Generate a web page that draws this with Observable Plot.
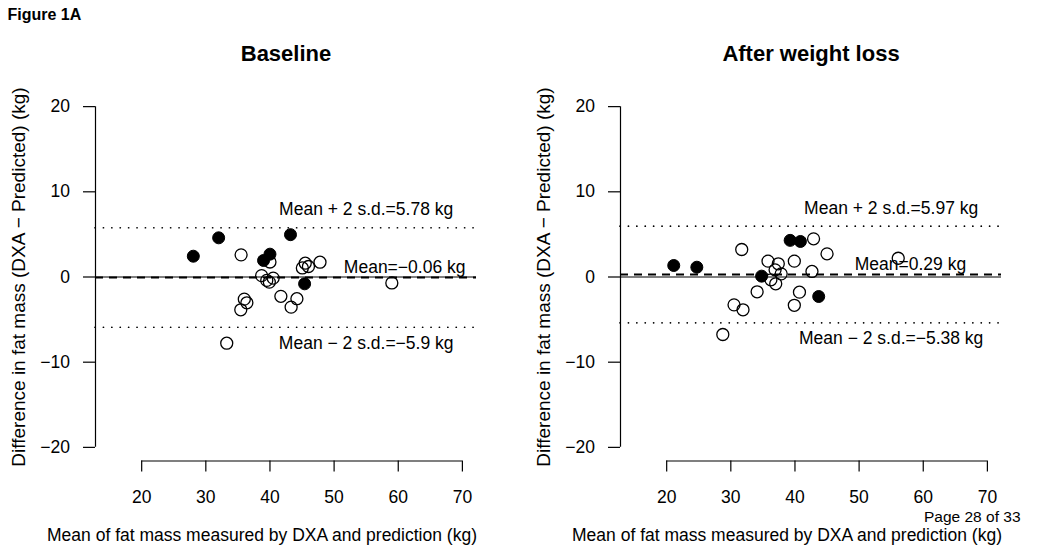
<!DOCTYPE html>
<html><head><meta charset="utf-8">
<script src="https://cdn.jsdelivr.net/npm/d3@7"></script>
<script src="https://cdn.jsdelivr.net/npm/@observablehq/plot@0.6"></script>
<style>
body{margin:0;background:#fff;}
#wrap{display:flex;width:1050px;height:560px;}
#wrap svg{flex:none;}
</style></head><body><div id="wrap"></div>
<script>
const xTicks = [20, 30, 40, 50, 60, 70];
const yTicks = [-20, -10, 0, 10, 20];
const xDomain = [12.8, 72.2];
const yDomain = [-21.6, 21.6];

// Baseline panel: mean of DXA & prediction, difference, group (1 = filled, 0 = open)
const baselineX = [28.05, 32.0, 43.2, 40.0, 39.0, 45.4,
  35.5, 40.0, 47.8, 45.5, 46.0, 45.05, 38.7, 40.5, 39.5, 39.9, 41.7, 44.2, 43.3, 36.0, 36.4, 35.45, 33.26, 59.0];
const baselineDiff = [2.44, 4.6, 4.97, 2.68, 1.94, -0.8,
  2.6, 1.76, 1.74, 1.62, 1.23, 1.06, 0.16, -0.13, -0.4, -0.6, -2.27, -2.55, -3.54, -2.6, -3.03, -3.85, -7.77, -0.7];
const baselineGroup = [1, 1, 1, 1, 1, 1,
  0, 0, 0, 0, 0, 0, 0, 0, 0, 0, 0, 0, 0, 0, 0, 0, 0, 0];
const baselineStats = [-0.06, 5.78, -5.9]; // mean, mean+2sd, mean-2sd

// After weight loss panel
const afterX = [21.1, 24.7, 39.25, 40.85, 34.8, 43.7,
  42.9, 31.7, 45.0, 35.8, 39.9, 37.4, 36.9, 37.85, 42.65, 36.25, 37.0, 34.1, 40.7, 39.9, 30.5, 31.9, 28.75, 56.1];
const afterDiff = [1.35, 1.15, 4.3, 4.17, 0.1, -2.29,
  4.48, 3.23, 2.72, 1.86, 1.86, 1.55, 0.84, 0.37, 0.65, -0.33, -0.8, -1.74, -1.78, -3.32, -3.27, -3.85, -6.75, 2.2];
const afterGroup = [1, 1, 1, 1, 1, 1,
  0, 0, 0, 0, 0, 0, 0, 0, 0, 0, 0, 0, 0, 0, 0, 0, 0, 0];
const afterStats = [0.29, 5.97, -5.38];

const titles = ["Baseline", "After weight loss"];
const xLabel = "Mean of fat mass measured by DXA and prediction (kg)";
const yLabel = "Difference in fat mass (DXA \u2212 Predicted) (kg)";
const figLabel = "Figure 1A";
const pageLabel = "Page 28 of 33";

const FONT = '"Liberation Sans", Arial, Helvetica, sans-serif';
const fmt = v => String(v).replace("-", "\u2212");

function panel(title, xs, ds, gs, stats, meanLabelX, isLeft) {
  const pts = xs.map((x, i) => ({x, d: ds[i], filled: gs[i] === 1}));
  const [mean, upper, lower] = stats;
  const marks = [
    Plot.ruleY([upper, lower], {stroke: "black", strokeWidth: 1.7, strokeDasharray: "0.1 8.3", strokeLinecap: "round"}),
    Plot.ruleY([mean], {stroke: "black", strokeWidth: 2, strokeDasharray: "8 6"}),
    Plot.ruleY([0], {stroke: "black", strokeWidth: 1.1}),
    Plot.dot(pts.filter(p => !p.filled), {x: "x", y: "d", r: 6, fill: "none", stroke: "black", strokeWidth: 1.3}),
    Plot.dot(pts.filter(p => p.filled), {x: "x", y: "d", r: 6, fill: "black", stroke: "black", strokeWidth: 1}),
    Plot.ruleY([yDomain[0]], {x1: xTicks[0], x2: xTicks[xTicks.length - 1], stroke: "black", strokeWidth: 1.2}),
    Plot.ruleX([xDomain[0]], {y1: yTicks[0], y2: yTicks[yTicks.length - 1], stroke: "black", strokeWidth: 1.2}),
    Plot.axisX(xTicks, {anchor: "bottom", tickSize: 11, tickPadding: 19, strokeWidth: 1.2, label: null}),
    Plot.axisY(yTicks, {anchor: "left", tickSize: 12, tickPadding: 13.5, strokeWidth: 1.2, label: null}),
    Plot.text([`Mean + 2 s.d.=${fmt(upper)} kg`], {text: d => d, x: 55, y: upper, dy: -18}),
    Plot.text([`Mean=${fmt(mean)} kg`], {text: d => d, x: meanLabelX, y: mean, dy: -10}),
    Plot.text([`Mean \u2212 2 s.d.=${fmt(lower)} kg`], {text: d => d, x: 55, y: lower, dy: 16}),
    Plot.text([title], {text: d => d, frameAnchor: "top", dy: -47.5, fontWeight: "bold", fontSize: 22}),
    Plot.text([yLabel], {text: d => d, frameAnchor: "left", textAnchor: "middle", rotate: -90, dx: -77, fontSize: 19}),
    Plot.text([xLabel], {text: d => d, frameAnchor: "bottom", textAnchor: "middle", dy: 79.5, dx: -24})
  ];
  if (isLeft) {
    marks.push(Plot.text([figLabel], {text: d => d, frameAnchor: "top-left", textAnchor: "start", dx: -88, dy: -84, fontWeight: "bold", fontSize: 16}));
  } else {
    marks.push(Plot.text([pageLabel], {text: d => d, frameAnchor: "bottom-right", textAnchor: "end", dx: 19, dy: 61, fontSize: 15.5}));
  }
  return Plot.plot({
    width: 525, height: 560,
    marginLeft: 95, marginRight: 49, marginTop: 92.5, marginBottom: 99.5,
    x: {domain: xDomain},
    y: {domain: yDomain},
    style: {fontFamily: FONT, fontSize: "17.5px", color: "black", background: "white", overflow: "visible"},
    marks
  });
}

const wrap = document.getElementById("wrap");
wrap.appendChild(panel(titles[0], baselineX, baselineDiff, baselineGroup, baselineStats, 61, true));
wrap.appendChild(panel(titles[1], afterX, afterDiff, afterGroup, afterStats, 58, false));
</script>
</body></html>
